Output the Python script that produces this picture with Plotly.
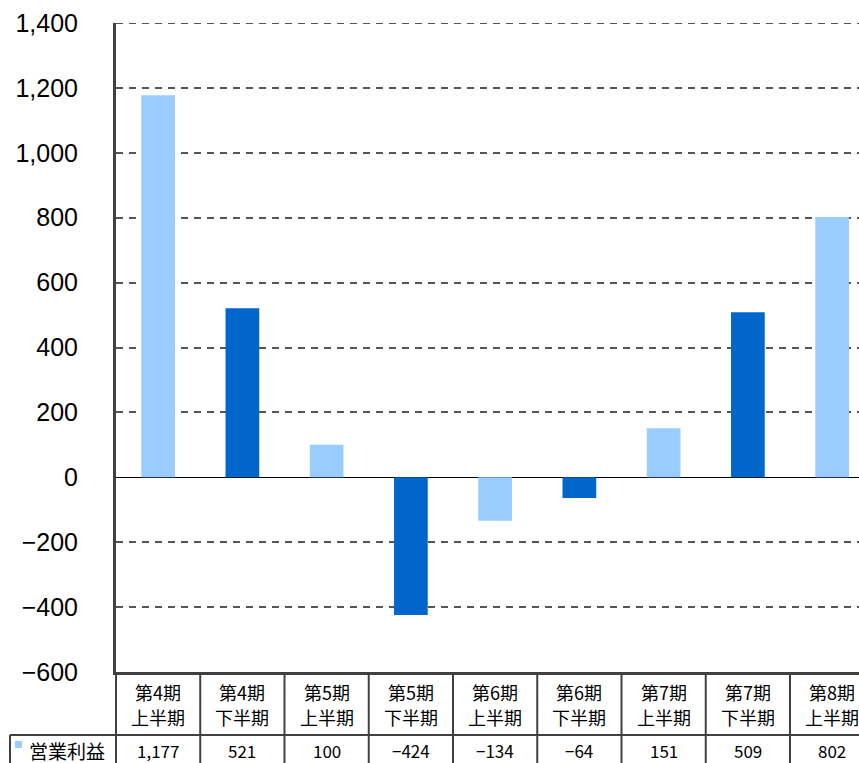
import plotly.graph_objects as go

periods = ["第4期", "第4期", "第5期", "第5期", "第6期", "第6期", "第7期", "第7期", "第8期"]
halves = ["上半期", "下半期", "上半期", "下半期", "上半期", "下半期", "上半期", "下半期", "上半期"]
values = [1177, 521, 100, -424, -134, -64, 151, 509, 802]
value_labels = ["1,177", "521", "100", "-424", "-134", "-64", "151", "509", "802"]
series_name = "営業利益"
y_ticks = [-600, -400, -200, 0, 200, 400, 600, 800, 1000, 1200, 1400]

LIGHT = "#99CCFF"
DARK = "#0066CC"
LINE = "#404040"
colors = [LIGHT if h == "上半期" else DARK for h in halves]
xs = list(range(len(values)))

W, H = 859, 763
ML, MR, MT, MB = 116, 0, 23, 91
plot_h = H - MT - MB
plot_w = W - ML - MR
cat_px = 84.25

def py(px):  # pixel y -> paper y
    return (H - MB - px) / plot_h

def pxx(px):  # pixel x -> paper x
    return (px - ML) / plot_w

fig = go.Figure()
fig.add_trace(go.Bar(x=xs, y=values, marker=dict(color=colors, line=dict(width=0)),
                     width=0.4, name=series_name, showlegend=False, hoverinfo="skip"))

shapes = []
annotations = []
# top gridline (at the range edge)
shapes.append(dict(type="line", xref="paper", yref="y", x0=0, x1=1, y0=y_ticks[-1], y1=y_ticks[-1],
                   line=dict(color="#555555", width=2, dash="7px,6px")))
# table vertical separators
for k in range(len(values) + 1):
    shapes.append(dict(type="line", xref="x", yref="paper", x0=k - 0.5, x1=k - 0.5,
                       y0=0, y1=py(H + 5), line=dict(color=LINE, width=2)))
# horizontal separator between header row and value row
shapes.append(dict(type="line", xref="paper", yref="paper", x0=pxx(10), x1=1,
                   y0=py(735), y1=py(735), line=dict(color=LINE, width=2)))
# left cell border
shapes.append(dict(type="line", xref="paper", yref="paper", x0=pxx(10), x1=pxx(10),
                   y0=py(735), y1=py(H + 5), line=dict(color=LINE, width=2)))
shapes.append(dict(type="line", xref="paper", yref="paper", x0=pxx(116), x1=pxx(116),
                   y0=py(672), y1=py(H + 5), line=dict(color=LINE, width=2)))
# legend marker
shapes.append(dict(type="rect", xref="paper", yref="paper", x0=pxx(15), x1=pxx(22),
                   y0=py(748), y1=py(741), fillcolor=LIGHT, line=dict(width=0)))

cjk = "Noto Sans CJK JP"
for i, (p, h, v) in enumerate(zip(periods, halves, value_labels)):
    annotations.append(dict(x=i, y=py(692), xref="x", yref="paper", text=p,
                            showarrow=False, font=dict(family=cjk, size=18, color="black"),
                            yanchor="middle"))
    annotations.append(dict(x=i, y=py(717), xref="x", yref="paper", text=h,
                            showarrow=False, font=dict(family=cjk, size=18, color="black"),
                            yanchor="middle"))
    annotations.append(dict(x=i, y=py(750), xref="x", yref="paper", text=v.replace("-", "−"),
                            showarrow=False, font=dict(family=cjk, size=17, color="black"),
                            yanchor="middle"))
annotations.append(dict(x=pxx(27), y=py(750), xref="paper", yref="paper", text=series_name,
                        showarrow=False, xanchor="left", yanchor="middle",
                        font=dict(family=cjk, size=19, color="black")))

fig.update_layout(
    width=W, height=H,
    margin=dict(l=ML, r=MR, t=MT, b=MB, pad=0),
    paper_bgcolor="white", plot_bgcolor="white",
    shapes=shapes, annotations=annotations,
    hovermode=False,
    xaxis=dict(range=[-0.5, -0.5 + plot_w / cat_px], showticklabels=False, showgrid=False,
               zeroline=False, showline=True, linecolor=LINE, linewidth=3, ticks=""),
    yaxis=dict(range=[-600, 1400], tickvals=y_ticks, tickformat=",",
               tickfont=dict(family="Liberation Sans, Arial", size=25, color="black"),
               showgrid=True, gridcolor="#555555", gridwidth=2, griddash="7px,6px",
               zeroline=True, zerolinecolor="black", zerolinewidth=1,
               showline=True, linecolor=LINE, linewidth=3, ticks="",
               ticklabelstandoff=30),
    font=dict(family="Liberation Sans, Arial", color="black"),
)
fig.write_html("out.html", config={"displayModeBar": False},
               post_script="document.body.style.margin='0';")
